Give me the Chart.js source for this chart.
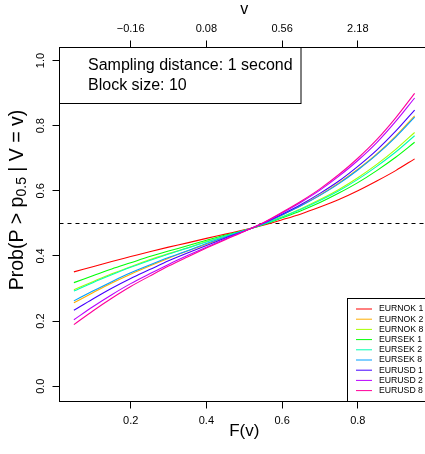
<!DOCTYPE html>
<html>
<head>
<meta charset="utf-8">
<style>
  html, body { margin: 0; padding: 0; background: #fff; overflow: hidden; }
  #wrap { width: 445px; height: 454px; }
</style>
<script src="https://cdn.jsdelivr.net/npm/chart.js@4.4.1/dist/chart.umd.min.js"></script>
</head>
<body>
<div id="wrap"><canvas id="chart" width="445" height="454"></canvas></div>
<script>
// F(v) grid the curves were read at
const fGrid = [0.05, 0.1, 0.15, 0.2, 0.25, 0.3, 0.35, 0.4, 0.45, 0.5,
               0.55, 0.6, 0.65, 0.7, 0.75, 0.8, 0.85, 0.9, 0.95];

const seriesNames = ["EURNOK 1", "EURNOK 2", "EURNOK 8", "EURSEK 1", "EURSEK 2",
                     "EURSEK 8", "EURUSD 1", "EURUSD 2", "EURUSD 8"];
const seriesColors = ["#FF0000", "#FFAD00", "#A6FF00", "#00FF06", "#00FFB3",
                      "#009FFF", "#4400FF", "#B900FF", "#FF0099"];

const eurnok1 = [0.351, 0.367, 0.383, 0.398, 0.413, 0.427, 0.440, 0.454, 0.467, 0.480,
                 0.494, 0.511, 0.529, 0.550, 0.573, 0.600, 0.630, 0.662, 0.698];
const eurnok2 = [0.256, 0.287, 0.317, 0.344, 0.369, 0.393, 0.415, 0.436, 0.457, 0.477,
                 0.499, 0.526, 0.555, 0.587, 0.624, 0.666, 0.713, 0.768, 0.830];
const eurnok8 = [0.296, 0.321, 0.345, 0.367, 0.388, 0.407, 0.425, 0.444, 0.461, 0.478,
                 0.497, 0.520, 0.545, 0.573, 0.604, 0.640, 0.681, 0.727, 0.779];
const eursek1 = [0.318, 0.339, 0.360, 0.379, 0.398, 0.415, 0.431, 0.448, 0.464, 0.479,
                 0.496, 0.517, 0.539, 0.564, 0.593, 0.625, 0.662, 0.703, 0.749];
const eursek2 = [0.292, 0.318, 0.342, 0.365, 0.386, 0.406, 0.424, 0.443, 0.461, 0.478,
                 0.497, 0.519, 0.543, 0.570, 0.600, 0.635, 0.675, 0.719, 0.769];
const eursek8 = [0.262, 0.292, 0.321, 0.348, 0.372, 0.395, 0.416, 0.438, 0.458, 0.477,
                 0.499, 0.526, 0.554, 0.586, 0.622, 0.664, 0.711, 0.765, 0.826];
const eurusd1 = [0.233, 0.268, 0.301, 0.331, 0.358, 0.385, 0.409, 0.432, 0.455, 0.476,
                 0.500, 0.528, 0.558, 0.592, 0.630, 0.675, 0.725, 0.783, 0.848];
const eurusd2 = [0.204, 0.244, 0.281, 0.315, 0.345, 0.374, 0.401, 0.427, 0.452, 0.476,
                 0.501, 0.532, 0.565, 0.602, 0.645, 0.693, 0.748, 0.813, 0.885];
const eurusd8 = [0.189, 0.231, 0.270, 0.306, 0.338, 0.369, 0.397, 0.424, 0.450, 0.475,
                 0.502, 0.534, 0.568, 0.606, 0.650, 0.700, 0.757, 0.824, 0.899];

const seriesValues = [eurnok1, eurnok2, eurnok8, eursek1, eursek2, eursek8, eurusd1, eurusd2, eurusd8];

// axis ticks
const bottomTicks = [0.2, 0.4, 0.6, 0.8];
const topTickLabels = ["\u22120.16", "0.08", "0.56", "2.18"];
const yTicks = [0, 0.2, 0.4, 0.6, 0.8, 1.0];
const refLevel = 0.5;

const infoLines = ["Sampling distance: 1 second", "Block size: 10"];

const FONT = "'Liberation Sans', Arial, Helvetica, sans-serif";

const datasets = seriesNames.map(function (name, i) {
  return {
    label: name,
    data: fGrid.map(function (f, j) { return { x: f, y: seriesValues[i][j] }; }),
    borderColor: seriesColors[i],
    borderWidth: 1.1,
    pointRadius: 0,
    fill: false,
    cubicInterpolationMode: "monotone",
    order: seriesNames.length - i,
  };
});

const tickGrid = { drawOnChartArea: false, drawTicks: true, tickLength: 7, color: "#000", lineWidth: 1 };

const decorations = {
  id: "decorations",
  beforeDatasetsDraw(chart) {
    const { ctx, chartArea: a, scales: { y } } = chart;
    const py = Math.round(y.getPixelForValue(refLevel)) + 0.5;
    ctx.save();
    ctx.strokeStyle = "#000";
    ctx.lineWidth = 1;
    ctx.setLineDash([4, 4]);
    ctx.beginPath();
    ctx.moveTo(a.left, py);
    ctx.lineTo(a.right, py);
    ctx.stroke();
    ctx.restore();
  },
  afterDatasetsDraw(chart) {
    const { ctx, chartArea: a, scales: { y } } = chart;
    ctx.save();
    // plot box
    ctx.strokeStyle = "#000";
    ctx.lineWidth = 1;
    ctx.strokeRect(a.left, a.top, a.right - a.left, a.bottom - a.top);

    // rotated y tick labels, R style
    ctx.fillStyle = "#000";
    ctx.font = "11px " + FONT;
    ctx.textAlign = "center";
    ctx.textBaseline = "middle";
    yTicks.forEach(function (v) {
      ctx.save();
      ctx.translate(41, y.getPixelForValue(v));
      ctx.rotate(-Math.PI / 2);
      ctx.fillText(v.toFixed(1), 0, 0);
      ctx.restore();
    });

    // y title with subscript
    const parts = [
      { t: "Prob(P > p", size: 19.5, dy: 0 },
      { t: "0.5", size: 14, dy: 4.5 },
      { t: " | V = v)", size: 19.5, dy: 0 },
    ];
    let total = 0;
    parts.forEach(function (p) { ctx.font = p.size + "px " + FONT; p.w = ctx.measureText(p.t).width; total += p.w; });
    ctx.save();
    ctx.translate(18, 200);
    ctx.rotate(-Math.PI / 2);
    ctx.textAlign = "left";
    let xx = -total / 2;
    parts.forEach(function (p) {
      ctx.font = p.size + "px " + FONT;
      ctx.fillText(p.t, xx, p.dy);
      xx += p.w;
    });
    ctx.restore();

    // info box, top-left
    ctx.fillStyle = "#fff";
    ctx.fillRect(a.left, a.top, 241.5, 56);
    ctx.strokeRect(a.left, a.top, 241.5, 56);
    ctx.fillStyle = "#000";
    ctx.font = "16px " + FONT;
    ctx.textAlign = "left";
    infoLines.forEach(function (line, i) {
      ctx.fillText(line, 88, 66 + i * 20);
    });

    // legend, bottom-right
    const lx = 347.5, ly = 298.5;
    ctx.fillStyle = "#fff";
    ctx.fillRect(lx, ly, a.right - lx, a.bottom - ly);
    ctx.strokeRect(lx, ly, a.right - lx, a.bottom - ly);
    ctx.font = "8.7px " + FONT;
    seriesNames.forEach(function (name, i) {
      const ry = 309 + i * 10.2;
      ctx.strokeStyle = seriesColors[i];
      ctx.beginPath();
      ctx.moveTo(356, ry);
      ctx.lineTo(372, ry);
      ctx.stroke();
      ctx.fillStyle = "#000";
      ctx.fillText(name, 379, ry);
    });
    ctx.restore();
  },
};

new Chart(document.getElementById("chart"), {
  type: "line",
  data: { datasets: datasets },
  options: {
    responsive: false,
    animation: false,
    devicePixelRatio: 1,
    layout: { padding: { left: 0, top: 0, right: 16, bottom: 0 } },
    plugins: { legend: { display: false }, tooltip: { enabled: false } },
    scales: {
      x: {
        type: "linear",
        position: "bottom",
        min: 0.012,
        max: 0.988,
        afterBuildTicks: function (s) { s.ticks = bottomTicks.map(function (v) { return { value: v }; }); },
        afterFit: function (s) { s.height = 52.5; },
        grid: tickGrid,
        border: { display: false },
        ticks: {
          color: "#000",
          padding: 6,
          maxRotation: 0,
          font: { family: FONT, size: 11 },
          callback: function (v) { return v.toFixed(1); },
        },
        title: { display: true, text: "F(v)", color: "#000", font: { family: FONT, size: 17 }, padding: { top: 0, bottom: 12 } },
      },
      x2: {
        type: "linear",
        position: "top",
        min: 0.012,
        max: 0.988,
        afterBuildTicks: function (s) { s.ticks = bottomTicks.map(function (v) { return { value: v }; }); },
        afterFit: function (s) { s.height = 47.5; },
        grid: tickGrid,
        border: { display: false },
        ticks: {
          color: "#000",
          padding: 5,
          maxRotation: 0,
          font: { family: FONT, size: 11 },
          callback: function (v, i) { return topTickLabels[i]; },
        },
        title: { display: true, text: "v", color: "#000", font: { family: FONT, size: 16 }, padding: { top: 0, bottom: 0 } },
      },
      y: {
        type: "linear",
        min: -0.047,
        max: 1.04,
        afterBuildTicks: function (s) { s.ticks = yTicks.map(function (v) { return { value: v }; }); },
        afterFit: function (s) { s.width = 59.5; },
        grid: tickGrid,
        border: { display: false },
        ticks: { display: false },
      },
    },
  },
  plugins: [decorations],
});
</script>
</body>
</html>
